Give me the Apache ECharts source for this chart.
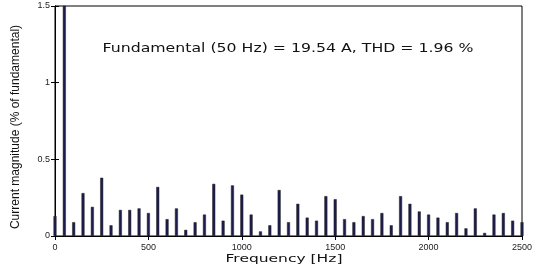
<!DOCTYPE html>
<html>
<head>
<meta charset="utf-8">
<script src="https://cdn.jsdelivr.net/npm/echarts@6/dist/echarts.min.js"></script>
<style>
  html, body { margin: 0; padding: 0; background: #fff; }
  #chart { width: 536px; height: 272px; }
</style>
</head>
<body>
<div id="chart"></div>
<script>
// harmonic frequencies (Hz), 0..2500 step 50
var frequencies = [0, 50, 100, 150, 200, 250, 300, 350, 400, 450, 500,
  550, 600, 650, 700, 750, 800, 850, 900, 950, 1000,
  1050, 1100, 1150, 1200, 1250, 1300, 1350, 1400, 1450, 1500,
  1550, 1600, 1650, 1700, 1750, 1800, 1850, 1900, 1950, 2000,
  2050, 2100, 2150, 2200, 2250, 2300, 2350, 2400, 2450, 2500];
// magnitude, % of fundamental (fundamental = 100, clipped by the axis)
var magnitudes = [0.13, 100, 0.09, 0.28, 0.19, 0.38, 0.07, 0.17, 0.17, 0.18, 0.15,
  0.32, 0.11, 0.18, 0.04, 0.09, 0.14, 0.34, 0.10, 0.33, 0.27,
  0.14, 0.03, 0.07, 0.30, 0.09, 0.21, 0.12, 0.10, 0.26, 0.24,
  0.11, 0.09, 0.13, 0.11, 0.15, 0.07, 0.26, 0.21, 0.16, 0.14,
  0.12, 0.09, 0.15, 0.05, 0.18, 0.02, 0.14, 0.15, 0.10, 0.09];
var yTicks = [0, 0.5, 1, 1.5];
var annotation = 'Fundamental (50 Hz) = 19.54 A, THD = 1.96 %';
var xTitle = 'Frequency [Hz]';
var yTitle = 'Current magnitude (% of fundamental)';

var chartDom = document.getElementById('chart');
var myChart = echarts.init(chartDom, null, { renderer: 'canvas' });

var barData = frequencies.map(function (f, i) {
  return [f, magnitudes[i]];
});

var tickStyle = { show: true, inside: true, length: 4, lineStyle: { color: '#000', width: 1 } };

var option = {
  backgroundColor: '#fff',
  animation: false,
  grid: {
    left: 55, right: 14, top: 6, bottom: 36,
    show: true, borderColor: '#000', borderWidth: 1, backgroundColor: 'transparent'
  },
  graphic: [{
    type: 'text',
    x: 288, y: 49,
    scaleX: 1.21,
    style: {
      text: annotation,
      fontFamily: 'DejaVu Sans',
      fontSize: 13,
      fill: '#111',
      align: 'center',
      verticalAlign: 'middle'
    }
  }, {
    type: 'text',
    x: 284, y: 259,
    scaleX: 1.55,
    style: {
      text: xTitle,
      fontFamily: 'DejaVu Sans',
      fontSize: 10,
      fill: '#111',
      align: 'center',
      verticalAlign: 'middle'
    }
  }, {
    type: 'text',
    x: 16, y: 127,
    rotation: Math.PI / 2,
    style: {
      text: yTitle,
      fontFamily: 'Liberation Sans',
      fontSize: 12,
      fill: '#111',
      align: 'center',
      verticalAlign: 'middle'
    }
  }],
  xAxis: [{
    type: 'value',
    min: 0, max: 2500, interval: 500,
    axisLine: { show: true, lineStyle: { color: '#000' } },
    axisTick: tickStyle,
    axisLabel: {
      fontFamily: 'Liberation Sans', fontSize: 9, color: '#222', margin: 7,
      formatter: function (v) { return String(v); }
    },
    splitLine: { show: false }
  }, {
    type: 'value', position: 'top',
    min: 0, max: 2500, interval: 500,
    axisLine: { show: true, lineStyle: { color: '#000' } },
    axisTick: tickStyle,
    axisLabel: { show: false },
    splitLine: { show: false }
  }],
  yAxis: [{
    type: 'value',
    min: 0, max: 1.5, interval: 0.5,
    axisLine: { show: true, lineStyle: { color: '#000' } },
    axisTick: tickStyle,
    axisLabel: {
      fontFamily: 'Liberation Sans', fontSize: 9, color: '#222', margin: 5,
      formatter: function (v) { return yTicks.indexOf(v) >= 0 ? String(v) : ''; }
    },
    splitLine: { show: false }
  }, {
    type: 'value', position: 'right',
    min: 0, max: 1.5, interval: 0.5,
    axisLine: { show: true, lineStyle: { color: '#000' } },
    axisTick: tickStyle,
    axisLabel: { show: false },
    splitLine: { show: false }
  }],
  series: [{
    type: 'bar',
    xAxisIndex: 0,
    yAxisIndex: 0,
    barWidth: 3,
    clip: true,
    itemStyle: { color: '#1c1c4e', borderColor: '#222', borderWidth: 0.5 },
    data: barData
  }]
};

myChart.setOption(option);
window.addEventListener('resize', myChart.resize);
</script>
</body>
</html>
